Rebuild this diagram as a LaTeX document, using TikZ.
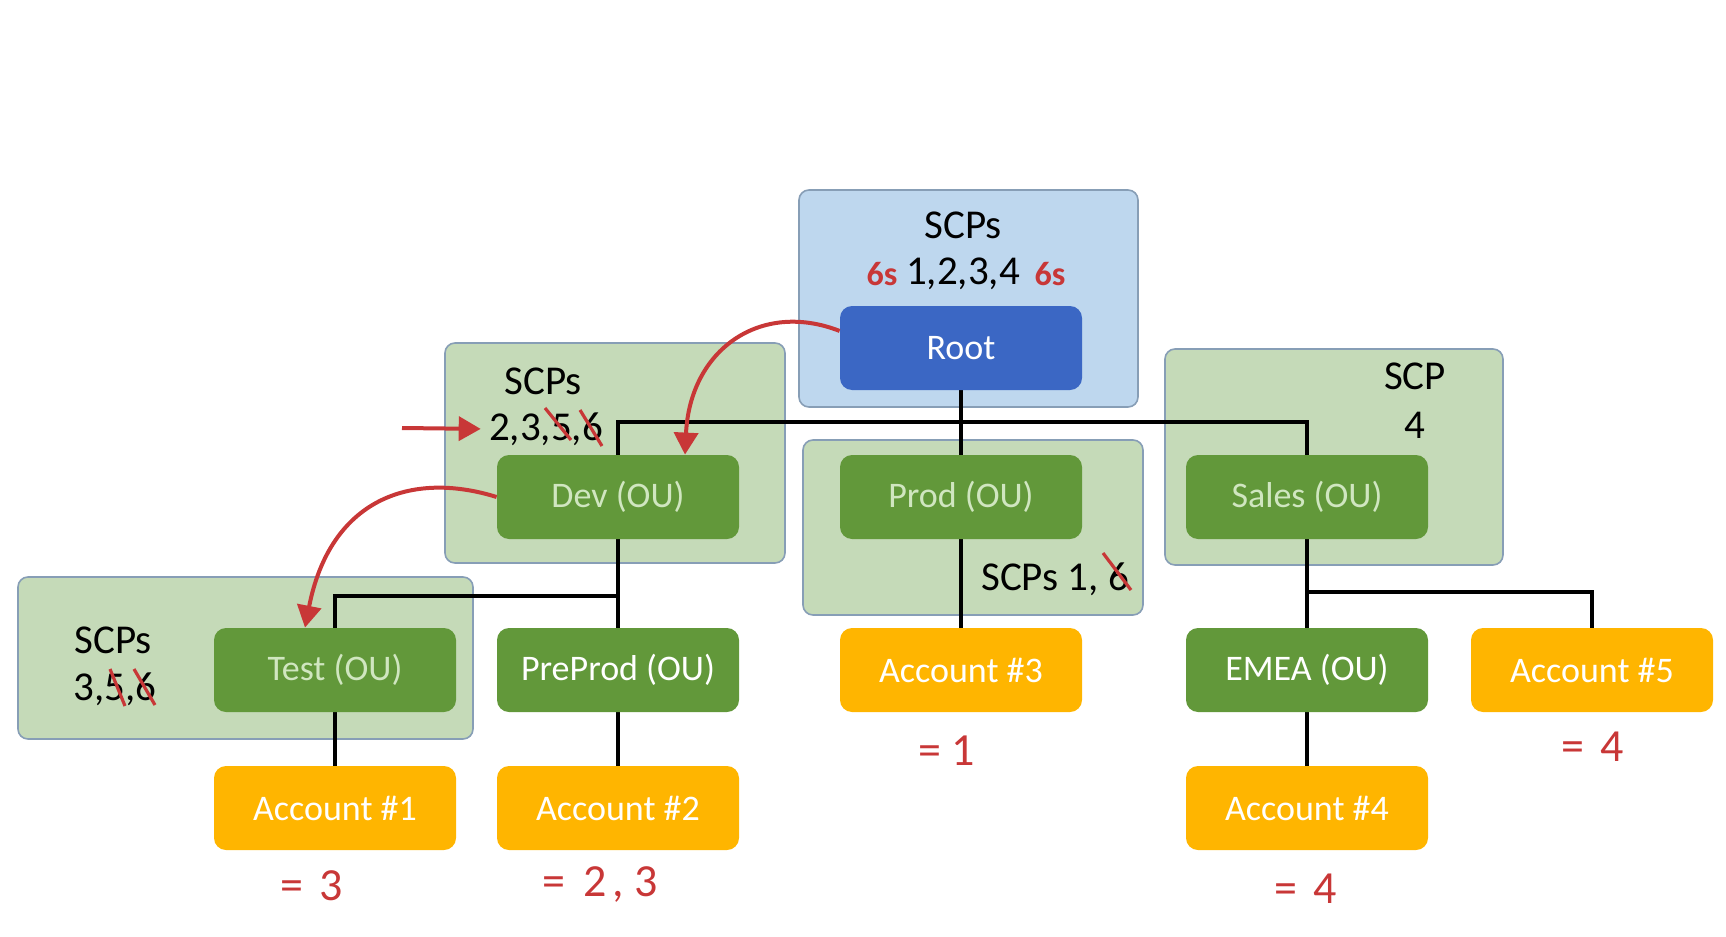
\documentclass[tikz,border=0pt]{standalone}
\usepackage{fontspec}
\setmainfont{Carlito}
\usetikzlibrary{arrows.meta,calc}
\pgfdeclarelayer{panel}
\pgfdeclarelayer{wire}
\pgfsetlayers{panel,wire,main}
\definecolor{rootblue}{RGB}{59,103,196}
\definecolor{rootpanel}{RGB}{190,215,238}
\definecolor{oufill}{RGB}{98,152,58}
\definecolor{oupanel}{RGB}{197,218,184}
\definecolor{panelline}{RGB}{135,158,182}
\definecolor{acctfill}{RGB}{255,181,0}
\definecolor{ink}{RGB}{200,55,55}
\definecolor{outext}{RGB}{208,230,192}

\begin{document}
\begin{tikzpicture}[x=0.5pt,y=-0.5pt,
    box/.style={rounded corners=6pt,minimum width=121pt,minimum height=42pt,inner sep=0pt,font=\fontsize{18}{21}\selectfont},
    ou/.style={box,fill=oufill,text=outext},
    acct/.style={box,fill=acctfill,text=white},
    panel/.style={draw=panelline,line width=0.8pt,rounded corners=5pt,fill=#1},
    scp/.style={inner sep=0pt,font=\fontsize{20.5}{24}\selectfont},
    hand/.style={text=ink,inner sep=0pt,font=\fontsize{23}{24}\selectfont},
    wire/.style={line width=2pt},
    redarrow/.style={ink,line width=2pt,-{Triangle[length=11pt,width=12pt]}},
    strike/.style={ink,line width=1.6pt}]
    \useasboundingbox (0,0) rectangle (1726,937);
    \node[box,fill=rootblue,text=white] (root) at (961,348) {Root};
    \node[ou] (dev) at (618,497) {Dev (OU)};
    \node[ou] (prod) at (961,497) {Prod (OU)};
    \node[ou] (sales) at (1307,497) {Sales (OU)};
    \node[ou] (test) at (335,670) {Test (OU)};
    \node[ou,text=white] (preprod) at (618,670) {PreProd (OU)};
    \node[acct] (acct3) at (961,670) {Account \#3};
    \node[ou,text=white] (emea) at (1307,670) {EMEA (OU)};
    \node[acct] (acct5) at (1592,670) {Account \#5};
    \node[acct] (acct1) at (335,808) {Account \#1};
    \node[acct] (acct2) at (618,808) {Account \#2};
    \node[acct] (acct4) at (1307,808) {Account \#4};
    \begin{pgfonlayer}{panel}
        \draw[panel=rootpanel] (799,190) rectangle (1138,407);
        \draw[panel=oupanel] (445,343) rectangle (785,563);
        \draw[panel=oupanel] (803,440) rectangle (1143,615);
        \draw[panel=oupanel] (1165,349) rectangle (1503,565);
        \draw[panel=oupanel] (18,577) rectangle (473,739);
    \end{pgfonlayer}
    \begin{pgfonlayer}{wire}
        \coordinate (topbar) at (961,422);
        \coordinate (devbar) at (618,596);
        \coordinate (salesbar) at (1307,592);
        \draw[wire] (root) -- (prod);
        \draw[wire] (dev) |- (topbar) -| (sales);
        \draw[wire] (dev) -- (preprod);
        \draw[wire] (devbar) -| (test);
        \draw[wire] (test) -- (acct1);
        \draw[wire] (preprod) -- (acct2);
        \draw[wire] (prod) -- (acct3);
        \draw[wire] (sales) -- (emea);
        \draw[wire] (salesbar) -| (acct5);
        \draw[wire] (emea) -- (acct4);
    \end{pgfonlayer}
    \node[scp] (rootscp) at (963,225) {SCPs};
    \node[scp] (rootlist) at (963,274) {1,2,3,4};
    \node[scp] (devscp) at (543,381) {SCPs};
    \node[scp] (devlist) at (546,429) {2,3,5,6};
    \node[scp] (prodlist) at (1055,579) {SCPs 1, 6};
    \node[scp] (salesscp) at (1415,376) {SCP};
    \node[scp] (saleslist) at (1415,425) {4};
    \node[scp] (testscp) at (113,640) {SCPs};
    \node[scp] (testlist) at (115,689) {3,5,6};
    \node[hand,font=\bfseries\fontsize{17}{17}\selectfont] (scrawl1) at (882,274) {6s};
    \node[hand,font=\bfseries\fontsize{17}{17}\selectfont] (scrawl2) at (1050,274) {6s};
    \node[hand] (mark1) at (947,751) {=\hspace{5pt}1};
    \node[hand] (mark3) at (312,886) {=\hspace{8pt}3};
    \node[hand] (mark23) at (600,885) {=\hspace{9pt}2\hspace{3pt},\hspace{5pt}3};
    \node[hand] (mark4a) at (1306,889) {=\hspace{8pt}4};
    \node[hand] (mark4b) at (1593,747) {=\hspace{8pt}4};
    \draw[strike] (545,408) -- (571,440);
    \draw[strike] (580,410) -- (602,446);
    \draw[strike] (110,669) -- (125,706);
    \draw[strike] (134,669) -- (155,705);
    \draw[strike] (1103,553) -- (1131,590);
    \draw[redarrow] (root.172) .. controls (760,300) and (690,350) .. ($(dev.north)+(67,0)$);
    \draw[redarrow] (dev.west) .. controls (410,470) and (330,500) .. ($(test.north)+(-30,0)$);
    \coordinate (inflow) at (402,428);
    \draw[redarrow,shorten >=4pt] (inflow) -- (devlist.west);
\end{tikzpicture}
\end{document}
